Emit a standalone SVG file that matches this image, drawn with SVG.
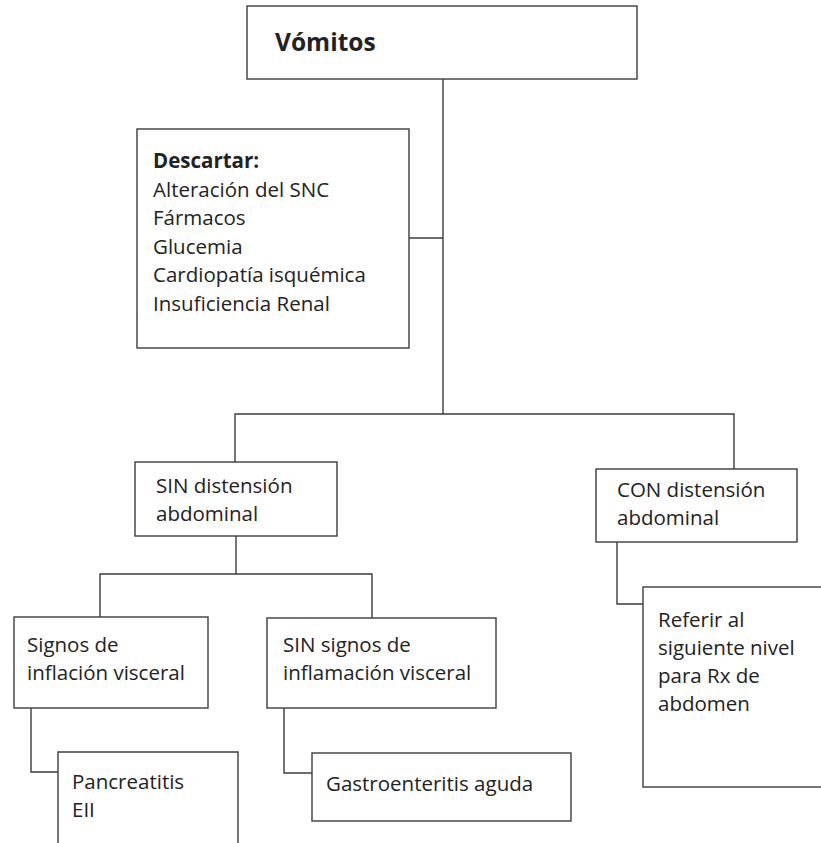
<svg xmlns="http://www.w3.org/2000/svg" width="821" height="843" viewBox="0 0 821 843">
  <style>
    .box { fill: #ffffff; stroke: #3c3c3c; stroke-width: 1.4; }
    .link { fill: none; stroke: #3c3c3c; stroke-width: 1.4; }
    text { font-family: "Open Sans", "Liberation Sans", sans-serif; font-size: 20.5px; fill: #222222; }
    .title { font-size: 24.5px; font-weight: bold; }
    .bold { font-weight: bold; }
  </style>
  <rect width="821" height="843" fill="#ffffff"/>

  <!-- connectors -->
  <g id="connectors">
    <path class="link" d="M443 79 V414"/>
    <path class="link" d="M409 238 H443"/>
    <path class="link" d="M235 462 V414 H734 V469"/>
    <path class="link" d="M236 536 V574"/>
    <path class="link" d="M100 617 V574 H372 V618"/>
    <path class="link" d="M31 708 V772 H58"/>
    <path class="link" d="M284 708 V773 H312"/>
    <path class="link" d="M617 542 V604 H643"/>
  </g>

  <g id="vomitos">
    <rect class="box" x="247" y="6" width="390" height="73"/>
    <text class="title" x="275" y="51">Vómitos</text>
  </g>

  <g id="descartar">
    <rect class="box" x="137" y="129" width="272" height="219"/>
    <text class="bold" x="153" y="168">Descartar:</text>
    <text x="153" y="196.5">Alteración del SNC</text>
    <text x="153" y="225">Fármacos</text>
    <text x="153" y="253.5">Glucemia</text>
    <text x="153" y="282">Cardiopatía isquémica</text>
    <text x="153" y="310.5">Insuficiencia Renal</text>
  </g>

  <g id="sin-distension">
    <rect class="box" x="135" y="462" width="202" height="74"/>
    <text x="156" y="493">SIN distensión</text>
    <text x="156" y="521">abdominal</text>
  </g>

  <g id="con-distension">
    <rect class="box" x="596" y="469" width="201" height="73"/>
    <text x="617" y="497">CON distensión</text>
    <text x="617" y="525">abdominal</text>
  </g>

  <g id="signos-inflacion">
    <rect class="box" x="14" y="617" width="194" height="91"/>
    <text x="27" y="652">Signos de</text>
    <text x="27" y="680">inflación visceral</text>
  </g>

  <g id="sin-signos">
    <rect class="box" x="267" y="618" width="229" height="90"/>
    <text x="283" y="652">SIN signos de</text>
    <text x="283" y="680">inflamación visceral</text>
  </g>

  <g id="pancreatitis">
    <path class="box" d="M58 845 V752 H238 V845"/>
    <text x="72" y="789">Pancreatitis</text>
    <text x="72" y="817">EII</text>
  </g>

  <g id="gastroenteritis">
    <rect class="box" x="312" y="753" width="259" height="68"/>
    <text x="326" y="791">Gastroenteritis aguda</text>
  </g>

  <g id="referir">
    <rect class="box" x="643" y="587" width="190" height="200"/>
    <text x="658" y="627">Referir al</text>
    <text x="658" y="655">siguiente nivel</text>
    <text x="658" y="683">para Rx de</text>
    <text x="658" y="711">abdomen</text>
  </g>
</svg>
